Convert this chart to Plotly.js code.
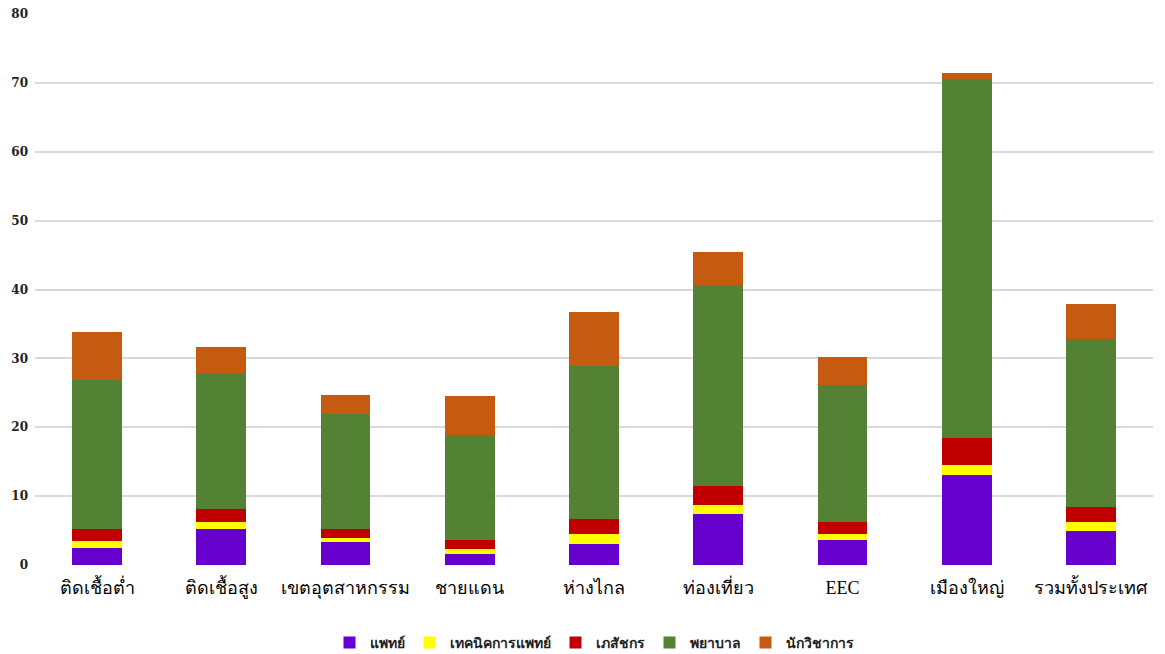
<!DOCTYPE html>
<html>
<head>
<meta charset="utf-8">
<script src="https://cdn.plot.ly/plotly-3.0.1.min.js"></script>
<style>html,body{margin:0;padding:0;background:#fff;}#chart{width:1165px;height:654px;}</style>
</head>
<body>
<div id="chart"></div>
<script>
const categories = ["ติดเชื้อต่ำ","ติดเชื้อสูง","เขตอุตสาหกรรม","ชายแดน","ห่างไกล","ท่องเที่ยว","EEC","เมืองใหญ่","รวมทั้งประเทศ"];
const seriesNames = ["แพทย์","เทคนิคการแพทย์","เภสัชกร","พยาบาล","นักวิชาการ"];
const doctor      = [2.4, 5.2, 3.3, 1.6, 3.1, 7.4, 3.7, 13.1, 4.9];
const medTech     = [1.1, 1.0, 0.6, 0.7, 1.4, 1.3, 0.8, 1.4, 1.3];
const pharmacist  = [1.7, 1.9, 1.4, 1.4, 2.2, 2.8, 1.7, 3.9, 2.2];
const nurse       = [21.6, 19.8, 16.6, 15.2, 22.2, 29.2, 19.9, 52.1, 24.4];
const academic    = [7.1, 3.8, 2.8, 5.6, 7.8, 4.8, 4.1, 1.0, 5.1];
const colors = ["#6600CC","#FFFF00","#C00000","#548235","#C55A11"];
const yTicks = [0,10,20,30,40,50,60,70,80];

const values = [doctor, medTech, pharmacist, nurse, academic];
const traces = values.map((v, i) => ({
  type: "bar",
  name: seriesNames[i],
  x: categories,
  y: v,
  marker: {color: colors[i], line: {width: 0}},
  hoverinfo: "x+y+name"
}));

const layout = {
  width: 1165, height: 654,
  barmode: "stack",
  bargap: 0.6,
  paper_bgcolor: "#fff",
  plot_bgcolor: "#fff",
  margin: {l: 35, r: 12, t: 14, b: 89, autoexpand: false},
  font: {family: "Liberation Serif, DejaVu Serif, serif", color: "#000"},
  xaxis: {
    type: "category",
    showgrid: false, showline: false, zeroline: false, ticks: "",
    ticklabelstandoff: 10,
    tickfont: {family: "Liberation Serif, DejaVu Serif, serif", size: 18, color: "#000"}
  },
  yaxis: {
    range: [0, 80],
    tickvals: yTicks,
    ticktext: yTicks.map(String),
    showgrid: true, gridcolor: "#d9d9d9", gridwidth: 2,
    zeroline: false, showline: false, ticks: "",
    ticklabelstandoff: 6,
    tickfont: {family: "DejaVu Serif, serif", size: 12, color: "#222", weight: "bold"}
  },
  showlegend: true,
  legend: {
    orientation: "h", x: 0.5, xanchor: "center",
    yref: "container", y: 0.017, yanchor: "middle",
    font: {family: "DejaVu Sans, Noto Sans, sans-serif", size: 14, color: "#222", weight: "bold"},
    itemwidth: 30, traceorder: "normal", itemclick: false
  }
};

Plotly.newPlot("chart", traces, layout, {displayModeBar: false, staticPlot: true});
</script>
</body>
</html>
